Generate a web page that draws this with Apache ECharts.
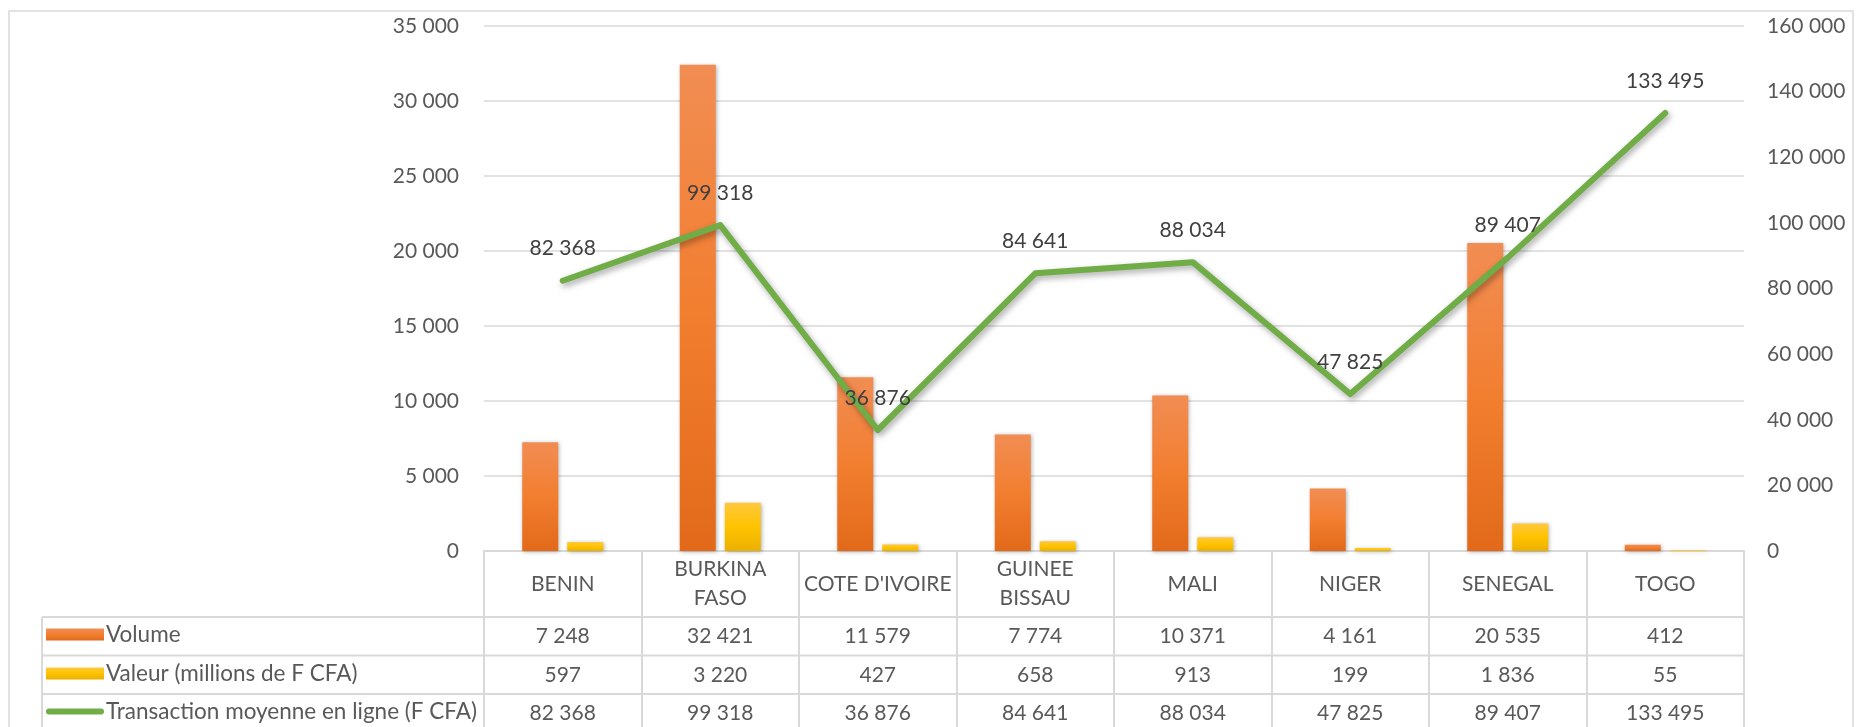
<!DOCTYPE html>
<html>
<head>
<meta charset="utf-8">
<script src="https://cdn.jsdelivr.net/npm/echarts@6/dist/echarts.min.js"></script>
<style>
html,body{margin:0;padding:0;background:#fff;}
#chart{width:1861px;height:727px;}
</style>
</head>
<body>
<div id="chart"></div>
<script>
const categories = ['BENIN', 'BURKINA\nFASO', "COTE D'IVOIRE", 'GUINEE\nBISSAU', 'MALI', 'NIGER', 'SENEGAL', 'TOGO'];
const volume = [7248, 32421, 11579, 7774, 10371, 4161, 20535, 412];
const valeur = [597, 3220, 427, 658, 913, 199, 1836, 55];
const transaction = [82368, 99318, 36876, 84641, 88034, 47825, 89407, 133495];
const leftTicks = { min: 0, max: 35000, interval: 5000 };
const rightTicks = { min: 0, max: 160000, interval: 20000 };
const seriesNames = ['Volume', 'Valeur (millions de F CFA)', 'Transaction moyenne en ligne (F CFA)'];

const FONT = 'Lato';
const TXT = '#595959';
const GRID = '#d9d9d9';
const fmt = v => String(v).replace(/\B(?=(\d{3})+(?!\d))/g, ' ');

const orangeGrad = { type: 'linear', x: 0, y: 0, x2: 0, y2: 1, colorStops: [
  { offset: 0, color: '#F18D53' }, { offset: 0.5, color: '#F27E30' }, { offset: 1, color: '#E2691A' }] };
const yellowGrad = { type: 'linear', x: 0, y: 0, x2: 0, y2: 1, colorStops: [
  { offset: 0, color: '#FFC83E' }, { offset: 0.5, color: '#FFC300' }, { offset: 1, color: '#EBB000' }] };

const gridL = 484, gridR = 1744, zeroY = 551;
const rowY = [617, 655.5, 694];
const rowCenters = [636, 675, 713];

function tableAxis(values, margin) {
  return {
    type: 'category', gridIndex: 0, position: 'bottom', data: categories,
    axisLine: { show: false }, axisTick: { show: false },
    axisLabel: {
      interval: 0, margin: margin, verticalAlign: 'middle',
      fontFamily: FONT, fontSize: 21, color: TXT,
      formatter: (v, i) => fmt(values[i])
    }
  };
}

const chart = echarts.init(document.getElementById('chart'));
const legendBase = {
  left: 46, orient: 'horizontal', itemWidth: 58, itemGap: 10, padding: 0,
  textStyle: { fontFamily: FONT, fontSize: 22.5, color: TXT, padding: [0, 0, 0, -3] },
  selectedMode: false
};
chart.setOption({
  animation: false,
  backgroundColor: '#fff',
  grid: { left: gridL, right: 1861 - gridR, top: 26, bottom: 727 - zeroY, containLabel: false },
  legend: [
    Object.assign({}, legendBase, { top: rowCenters[0] - 13, itemHeight: 12, data: [{ name: seriesNames[0], icon: 'rect' }] }),
    Object.assign({}, legendBase, { top: rowCenters[1] - 13, itemHeight: 12, data: [{ name: seriesNames[1], icon: 'rect' }] }),
    Object.assign({}, legendBase, { top: rowCenters[2] - 13, itemHeight: 7,
      data: [{ name: seriesNames[2], icon: 'path://M3,0H54A3,3 0 0 1 54,6H3A3,3 0 0 1 3,0Z' }] })
  ],
  xAxis: [
    {
      type: 'category', data: categories, position: 'bottom',
      axisLine: { show: true, lineStyle: { color: GRID, width: 2 } },
      axisTick: { show: true, length: 190, lineStyle: { color: GRID, width: 2 } },
      axisLabel: { interval: 0, margin: 33, verticalAlign: 'middle', lineHeight: 29,
        fontFamily: FONT, fontSize: 21, color: TXT }
    },
    tableAxis(volume, rowCenters[0] - zeroY),
    tableAxis(valeur, rowCenters[1] - zeroY),
    tableAxis(transaction, rowCenters[2] - zeroY)
  ],
  yAxis: [
    {
      type: 'value', position: 'left', min: leftTicks.min, max: leftTicks.max, interval: leftTicks.interval,
      axisLine: { show: false }, axisTick: { show: false },
      splitLine: { show: true, lineStyle: { color: GRID, width: 1.5 } },
      axisLabel: { margin: 25, fontFamily: FONT, fontSize: 21, color: TXT, formatter: v => fmt(v) }
    },
    {
      type: 'value', position: 'right', min: rightTicks.min, max: rightTicks.max, interval: rightTicks.interval,
      axisLine: { show: false }, axisTick: { show: false }, splitLine: { show: false },
      axisLabel: { margin: 23, fontFamily: FONT, fontSize: 21, color: TXT, formatter: v => fmt(v) }
    }
  ],
  series: [
    {
      name: seriesNames[0], type: 'bar', yAxisIndex: 0, data: volume,
      barWidth: 36, barGap: '25%',
      itemStyle: { color: orangeGrad, shadowColor: 'rgba(0,0,0,0.3)', shadowBlur: 4, shadowOffsetX: 1, shadowOffsetY: 1 }
    },
    {
      name: seriesNames[1], type: 'bar', yAxisIndex: 0, data: valeur,
      barWidth: 36, barGap: '25%',
      itemStyle: { color: yellowGrad, shadowColor: 'rgba(0,0,0,0.3)', shadowBlur: 4, shadowOffsetX: 1, shadowOffsetY: 1 }
    },
    {
      name: seriesNames[2], type: 'line', yAxisIndex: 1, data: transaction,
      symbol: 'circle', symbolSize: 1, showSymbol: true,
      itemStyle: { color: '#70AD47' },
      lineStyle: { color: '#70AD47', width: 6, cap: 'round', join: 'round',
        shadowColor: 'rgba(0,0,0,0.35)', shadowBlur: 6, shadowOffsetX: 2, shadowOffsetY: 3 },
      label: { show: true, position: 'top', distance: 21, fontFamily: FONT, fontSize: 21, color: '#404040',
        formatter: p => fmt(p.value) },
      z: 5
    }
  ],
  graphic: [
    { type: 'rect', silent: true, z: -1, shape: { x: 9, y: 11, width: 1844, height: 800 },
      style: { fill: 'none', stroke: GRID, lineWidth: 1.5 } },
    { type: 'line', silent: true, shape: { x1: 42, y1: rowY[0], x2: gridR, y2: rowY[0] }, style: { stroke: GRID, lineWidth: 2 } },
    { type: 'line', silent: true, shape: { x1: 42, y1: rowY[1], x2: gridR, y2: rowY[1] }, style: { stroke: GRID, lineWidth: 2 } },
    { type: 'line', silent: true, shape: { x1: 42, y1: rowY[2], x2: gridR, y2: rowY[2] }, style: { stroke: GRID, lineWidth: 2 } },
    { type: 'line', silent: true, shape: { x1: 42, y1: rowY[0], x2: 42, y2: 740 }, style: { stroke: GRID, lineWidth: 2 } }
  ]
});
</script>
</body>
</html>
